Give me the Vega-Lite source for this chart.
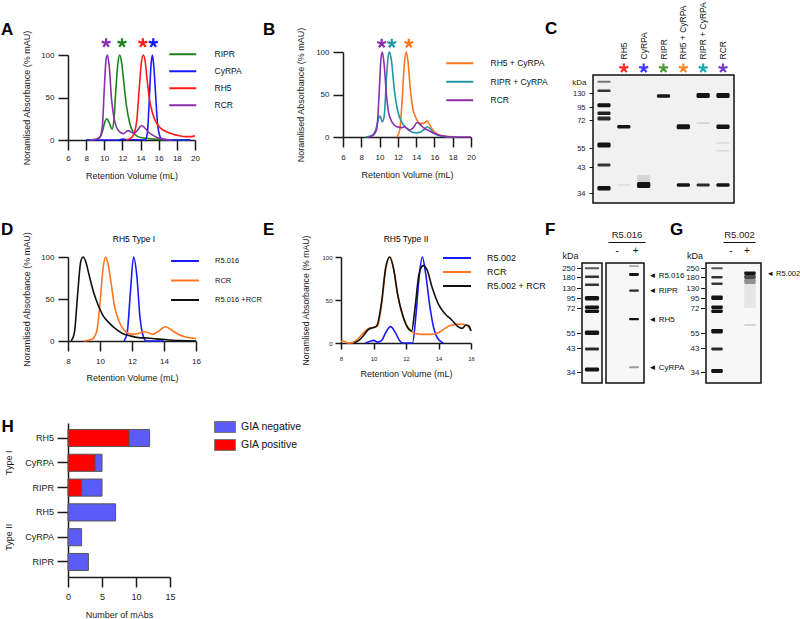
{
"$schema":"https://vega.github.io/schema/vega-lite/v6.json",
"padding":0,"autosize":{"type":"pad"},"background":"white",
"spacing":0,"bounds":"flush",
"resolve":{"scale":{"color":"independent","stroke":"independent","opacity":"independent"},"legend":{"color":"independent"}},
"config":{"font":"Liberation Sans","view":{"stroke":null},
"axis":{"grid":false,"domainColor":"#1a1a1a","tickColor":"#1a1a1a","domainWidth":1.5,"tickWidth":1.5,"labelColor":"#1a1a1a","titleColor":"#1a1a1a","titleFontWeight":"normal","labelFlush":false,"labelOverlap":false},
"legend":{"labelColor":"#111","orient":"none"},"title":{"color":"#000","offset":0}},
"hconcat":[
{"width":68,"height":1,"data":{"values":[]},"mark":"point"},
{"vconcat":[
{"width":127,"height":55,"data":{"values":[]},"mark":"point","title":{"text":"A","anchor":"start","frame":"group","offset":0,"dx":-67,"dy":52,"baseline":"alphabetic","fontSize":17,"fontWeight":"bold"}},
{"width":127,"height":85,
"layer":[
{"data":{"values":[
{"v":8,"a":0,"s":"RIPR"},{"v":9,"a":0.5,"s":"RIPR"},{"v":9.5,"a":3,"s":"RIPR"},{"v":9.8,"a":10,"s":"RIPR"},{"v":10.05,"a":21,"s":"RIPR"},{"v":10.3,"a":25,"s":"RIPR"},{"v":10.55,"a":20,"s":"RIPR"},{"v":10.85,"a":13,"s":"RIPR"},{"v":11.05,"a":22,"s":"RIPR"},{"v":11.25,"a":55,"s":"RIPR"},{"v":11.5,"a":90,"s":"RIPR"},{"v":11.7,"a":100,"s":"RIPR"},{"v":11.9,"a":92,"s":"RIPR"},{"v":12.15,"a":68,"s":"RIPR"},{"v":12.45,"a":40,"s":"RIPR"},{"v":12.8,"a":20,"s":"RIPR"},{"v":13.2,"a":9,"s":"RIPR"},{"v":13.7,"a":4,"s":"RIPR"},{"v":14.5,"a":2,"s":"RIPR"},{"v":15.5,"a":1,"s":"RIPR"},{"v":16.5,"a":0.3,"s":"RIPR"},{"v":18,"a":0,"s":"RIPR"},{"v":19.5,"a":0,"s":"RIPR"},
{"v":8,"a":0,"s":"CyRPA"},{"v":11.6,"a":0,"s":"CyRPA"},{"v":12,"a":1,"s":"CyRPA"},{"v":12.4,"a":0.5,"s":"CyRPA"},{"v":14.5,"a":0,"s":"CyRPA"},{"v":14.75,"a":8,"s":"CyRPA"},{"v":14.95,"a":45,"s":"CyRPA"},{"v":15.15,"a":88,"s":"CyRPA"},{"v":15.3,"a":100,"s":"CyRPA"},{"v":15.45,"a":88,"s":"CyRPA"},{"v":15.65,"a":55,"s":"CyRPA"},{"v":15.85,"a":22,"s":"CyRPA"},{"v":16.05,"a":7,"s":"CyRPA"},{"v":16.3,"a":1.5,"s":"CyRPA"},{"v":16.8,"a":0,"s":"CyRPA"},{"v":19.5,"a":0,"s":"CyRPA"},
{"v":12.4,"a":0,"s":"RH5"},{"v":12.9,"a":2,"s":"RH5"},{"v":13.3,"a":8,"s":"RH5"},{"v":13.6,"a":25,"s":"RH5"},{"v":13.85,"a":60,"s":"RH5"},{"v":14.1,"a":92,"s":"RH5"},{"v":14.3,"a":100,"s":"RH5"},{"v":14.5,"a":93,"s":"RH5"},{"v":14.75,"a":68,"s":"RH5"},{"v":15,"a":47,"s":"RH5"},{"v":15.3,"a":32,"s":"RH5"},{"v":15.7,"a":21,"s":"RH5"},{"v":16.2,"a":14,"s":"RH5"},{"v":16.8,"a":10,"s":"RH5"},{"v":17.5,"a":7,"s":"RH5"},{"v":18.3,"a":5,"s":"RH5"},{"v":19,"a":4,"s":"RH5"},{"v":19.6,"a":4,"s":"RH5"},{"v":20,"a":5,"s":"RH5"},
{"v":8.3,"a":0,"s":"RCR"},{"v":9,"a":0.5,"s":"RCR"},{"v":9.5,"a":3,"s":"RCR"},{"v":9.8,"a":18,"s":"RCR"},{"v":10,"a":60,"s":"RCR"},{"v":10.2,"a":95,"s":"RCR"},{"v":10.35,"a":100,"s":"RCR"},{"v":10.55,"a":86,"s":"RCR"},{"v":10.8,"a":48,"s":"RCR"},{"v":11.05,"a":27,"s":"RCR"},{"v":11.35,"a":15,"s":"RCR"},{"v":11.7,"a":9.5,"s":"RCR"},{"v":12.1,"a":7.5,"s":"RCR"},{"v":12.45,"a":10,"s":"RCR"},{"v":12.7,"a":11,"s":"RCR"},{"v":13,"a":9,"s":"RCR"},{"v":13.3,"a":8,"s":"RCR"},{"v":13.7,"a":12,"s":"RCR"},{"v":14.1,"a":17,"s":"RCR"},{"v":14.4,"a":15,"s":"RCR"},{"v":14.8,"a":10,"s":"RCR"},{"v":15.3,"a":6,"s":"RCR"},{"v":15.8,"a":3,"s":"RCR"},{"v":16.5,"a":1,"s":"RCR"},{"v":17.5,"a":0,"s":"RCR"}
]},
"mark":{"type":"line","interpolate":"monotone","strokeWidth":1.6},
"encoding":{
"x":{"field":"v","type":"quantitative","scale":{"domain":[6,20],"nice":false,"zero":false},"axis":{"values":[6,8,10,12,14,16,18,20],"labelOverlap":false,"title":"Retention Volume  (mL)","labelFontSize":8,"titleFontSize":9,"tickSize":10,"labelPadding":4,"titlePadding":9}},
"y":{"field":"a","type":"quantitative","scale":{"domain":[0,100],"nice":false},"axis":{"values":[0,50,100],"labelOverlap":false,"title":"Noramlised Absorbance (% mAU)","labelFontSize":8,"titleFontSize":9,"tickSize":10,"labelPadding":4,"titlePadding":9}},
"color":{"field":"s","type":"nominal","scale":{"domain":["RIPR","CyRPA","RH5","RCR"],"range":["#1e821e","#1a1aff","#ff1a1a","#8b2fae"]},"legend":{"legendX":106.75,"legendY":-8.75,"title":null,"symbolType":"M-2,0H2","symbolSize":182,"symbolStrokeWidth":2,"labelFontSize":8.5,"labelOffset":23.75,"rowPadding":4,"padding":0}}}},
{"data":{"values":[{"v":10.2,"s":"RCR"},{"v":11.95,"s":"RIPR"},{"v":14.25,"s":"RH5"},{"v":15.4,"s":"CyRPA"}]},
"mark":{"type":"point","shape":"M0,0L0,-1M0,0L0.95,-0.31M0,0L0.59,0.81M0,0L-0.59,0.81M0,0L-0.95,-0.31","filled":false,"strokeWidth":2.2,"size":90,"opacity":1},
"encoding":{"x":{"field":"v","type":"quantitative","axis":{"values":[6,8,10,12,14,16,18,20],"labelOverlap":false,"title":"Retention Volume  (mL)","labelFontSize":8,"titleFontSize":9,"tickSize":10,"labelPadding":4,"titlePadding":9}},"y":{"datum":114,"axis":{"values":[0,50,100],"labelOverlap":false,"title":"Noramlised Absorbance (% mAU)","labelFontSize":8,"titleFontSize":9,"tickSize":10,"labelPadding":4,"titlePadding":9}},"stroke":{"field":"s","type":"nominal","scale":{"domain":["RIPR","CyRPA","RH5","RCR"],"range":["#1e821e","#1a1aff","#ff1a1a","#8b2fae"]},"legend":null}}}
]},
{"width":128,"height":1,"data":{"values":[]},"mark":"point","title":{"text":"D","anchor":"start","frame":"group","offset":0,"dx":-67,"dy":112,"baseline":"alphabetic","fontSize":17,"fontWeight":"bold"}},
{"width":128,"height":116,"data":{"values":[]},"mark":"point","title":{"text":"RH5 Type I","anchor":"middle","frame":"group","offset":0,"dx":2,"dy":109.5,"baseline":"alphabetic","fontSize":8.5,"fontWeight":"normal","color":"#000"}},
{"width":128,"height":84,
"data":{"values":[
{"v":11.5,"a":0,"s":"R5.016"},{"v":11.7,"a":10,"s":"R5.016"},{"v":11.9,"a":58,"s":"R5.016"},{"v":12.1,"a":100,"s":"R5.016"},{"v":12.3,"a":78,"s":"R5.016"},{"v":12.5,"a":28,"s":"R5.016"},{"v":12.7,"a":6,"s":"R5.016"},{"v":12.9,"a":0,"s":"R5.016"},{"v":14,"a":0,"s":"R5.016"},
{"v":9,"a":0,"s":"RCR"},{"v":9.5,"a":2,"s":"RCR"},{"v":9.8,"a":12,"s":"RCR"},{"v":10,"a":45,"s":"RCR"},{"v":10.2,"a":88,"s":"RCR"},{"v":10.35,"a":100,"s":"RCR"},{"v":10.5,"a":92,"s":"RCR"},{"v":10.7,"a":68,"s":"RCR"},{"v":10.9,"a":42,"s":"RCR"},{"v":11.2,"a":23,"s":"RCR"},{"v":11.5,"a":13,"s":"RCR"},{"v":11.8,"a":9,"s":"RCR"},{"v":12.1,"a":8,"s":"RCR"},{"v":12.4,"a":9,"s":"RCR"},{"v":12.7,"a":11,"s":"RCR"},{"v":13,"a":10,"s":"RCR"},{"v":13.3,"a":8,"s":"RCR"},{"v":13.6,"a":11,"s":"RCR"},{"v":14.1,"a":17,"s":"RCR"},{"v":14.4,"a":14,"s":"RCR"},{"v":14.8,"a":9,"s":"RCR"},{"v":15.3,"a":5,"s":"RCR"},{"v":16,"a":3,"s":"RCR"},
{"v":8.2,"a":0,"s":"R5.016 +RCR"},{"v":8.4,"a":10,"s":"R5.016 +RCR"},{"v":8.6,"a":55,"s":"R5.016 +RCR"},{"v":8.8,"a":95,"s":"R5.016 +RCR"},{"v":8.95,"a":100,"s":"R5.016 +RCR"},{"v":9.1,"a":95,"s":"R5.016 +RCR"},{"v":9.3,"a":80,"s":"R5.016 +RCR"},{"v":9.6,"a":58,"s":"R5.016 +RCR"},{"v":9.9,"a":42,"s":"R5.016 +RCR"},{"v":10.2,"a":30,"s":"R5.016 +RCR"},{"v":10.6,"a":21,"s":"R5.016 +RCR"},{"v":11,"a":14,"s":"R5.016 +RCR"},{"v":11.4,"a":9,"s":"R5.016 +RCR"},{"v":11.9,"a":6,"s":"R5.016 +RCR"},{"v":12.4,"a":4,"s":"R5.016 +RCR"},{"v":13,"a":3.5,"s":"R5.016 +RCR"},{"v":13.5,"a":2.5,"s":"R5.016 +RCR"},{"v":14.2,"a":1.5,"s":"R5.016 +RCR"},{"v":15,"a":0.5,"s":"R5.016 +RCR"},{"v":16,"a":0,"s":"R5.016 +RCR"}
]},
"mark":{"type":"line","interpolate":"monotone","strokeWidth":1.6},
"encoding":{
"x":{"field":"v","type":"quantitative","scale":{"domain":[8,16],"nice":false,"zero":false},"axis":{"values":[8,10,12,14,16],"title":"Retention Volume  (mL)","labelFontSize":8,"titleFontSize":9,"tickSize":10,"labelPadding":6,"titlePadding":8}},
"y":{"field":"a","type":"quantitative","scale":{"domain":[0,100],"nice":false},"axis":{"values":[0,50,100],"title":"Noramlised Absorbance (% mAU)","labelFontSize":8,"titleFontSize":9,"tickSize":10,"labelPadding":4,"titlePadding":9}},
"color":{"field":"s","type":"nominal","scale":{"domain":["R5.016","RCR","R5.016 +RCR"],"range":["#1a1aff","#ff761e","#111111"]},"legend":{"legendX":109,"legendY":-4,"title":null,"symbolType":"M-2,0H2","symbolSize":196,"symbolStrokeWidth":2,"labelFontSize":7.5,"labelOffset":22,"rowPadding":7.5,"padding":0}}}},
{"width":102,"height":82,"data":{"values":[]},"mark":"point","title":{"text":"H","anchor":"start","frame":"group","offset":0,"dx":-66.5,"dy":108,"baseline":"alphabetic","fontSize":17,"fontWeight":"bold"}},
{"width":102,"height":154,
"data":{"values":[
{"bar":"1 RH5","status":"GIA positive","n":9},{"bar":"1 RH5","status":"GIA negative","n":3},
{"bar":"1 CyRPA","status":"GIA positive","n":4},{"bar":"1 CyRPA","status":"GIA negative","n":1},
{"bar":"1 RIPR","status":"GIA positive","n":2},{"bar":"1 RIPR","status":"GIA negative","n":3},
{"bar":"2 RH5","status":"GIA negative","n":7},{"bar":"2 CyRPA","status":"GIA negative","n":2},{"bar":"2 RIPR","status":"GIA negative","n":3}
]},
"resolve":{"axis":{"y":"independent"}},
"layer":[
{"mark":{"type":"bar","stroke":"#555","strokeWidth":1},
"encoding":{
"y":{"field":"bar","type":"nominal","sort":["1 RH5","1 CyRPA","1 RIPR","2 RH5","2 CyRPA","2 RIPR"],"scale":{"paddingInner":0.31,"paddingOuter":0.26},"axis":{"orient":"left","title":null,"labelExpr":"substring(datum.label,2)","tickSize":11,"labelPadding":3.5,"labelFontSize":9}},
"x":{"field":"n","type":"quantitative","stack":"zero","scale":{"domain":[0,15],"nice":false},"axis":{"values":[0,5,10,15],"title":"Number of mAbs","tickSize":10,"labelPadding":5,"labelFontSize":9,"titleFontSize":9,"titlePadding":9}},
"color":{"field":"status","type":"nominal","scale":{"domain":["GIA negative","GIA positive"],"range":["#5b5bf7","#ff0000"]},"legend":{"legendX":151,"legendY":-2,"title":null,"symbolType":"M-1.9,-1H1.9V1H-1.9Z","symbolSize":121,"symbolStrokeColor":"#777","symbolStrokeWidth":1,"labelFontSize":10.5,"labelOffset":10,"rowPadding":2,"padding":0}},
"order":{"field":"status","sort":"descending"}}},
{"mark":{"type":"point","opacity":0},
"encoding":{"y":{"field":"bar","type":"nominal","sort":["1 RH5","1 CyRPA","1 RIPR","2 RH5","2 CyRPA","2 RIPR"],"axis":{"orient":"left","values":["1 CyRPA","2 CyRPA"],"labelExpr":"datum.value == '1 CyRPA' ? 'Type I' : 'Type II'","labelAngle":-90,"labelAlign":"center","labelBaseline":"bottom","domain":false,"ticks":false,"tickSize":0,"labelPadding":54.5,"labelFontSize":9,"title":null}}}}
]}
],"spacing":0,"bounds":"flush","resolve":{"scale":{"color":"independent","stroke":"independent","opacity":"independent"},"legend":{"color":"independent"}}},
{"width":273,"height":1,"data":{"values":[]},"mark":"point"},
{"vconcat":[
{"width":130,"height":1,"data":{"values":[]},"mark":"point","title":{"text":"E","anchor":"start","frame":"group","offset":0,"dx":-78,"dy":252,"baseline":"alphabetic","fontSize":17,"fontWeight":"bold"}},
{"width":130,"height":256,"data":{"values":[]},"mark":"point","title":{"text":"RH5 Type II","anchor":"middle","frame":"group","offset":0,"dx":0,"dy":249.5,"baseline":"alphabetic","fontSize":8.5,"fontWeight":"normal","color":"#000"}},
{"width":130,"height":86,
"data":{"values":[
{"v":9.5,"a":0,"s":"R5.002"},{"v":9.8,"a":2,"s":"R5.002"},{"v":10,"a":3,"s":"R5.002"},{"v":10.25,"a":1,"s":"R5.002"},{"v":10.5,"a":3,"s":"R5.002"},{"v":10.75,"a":12,"s":"R5.002"},{"v":11.05,"a":19,"s":"R5.002"},{"v":11.35,"a":12,"s":"R5.002"},{"v":11.6,"a":3,"s":"R5.002"},{"v":11.8,"a":0,"s":"R5.002"},{"v":12.4,"a":0,"s":"R5.002"},{"v":12.6,"a":30,"s":"R5.002"},{"v":12.8,"a":75,"s":"R5.002"},{"v":13,"a":100,"s":"R5.002"},{"v":13.2,"a":82,"s":"R5.002"},{"v":13.45,"a":45,"s":"R5.002"},{"v":13.7,"a":18,"s":"R5.002"},{"v":14,"a":4,"s":"R5.002"},{"v":14.3,"a":0,"s":"R5.002"},
{"v":8,"a":2,"s":"RCR"},{"v":8.2,"a":2,"s":"RCR"},{"v":8.4,"a":0,"s":"RCR"},{"v":8.8,"a":1,"s":"RCR"},{"v":9.1,"a":6,"s":"RCR"},{"v":9.4,"a":12,"s":"RCR"},{"v":9.7,"a":17,"s":"RCR"},{"v":10,"a":18,"s":"RCR"},{"v":10.25,"a":20,"s":"RCR"},{"v":10.5,"a":45,"s":"RCR"},{"v":10.75,"a":85,"s":"RCR"},{"v":11,"a":100,"s":"RCR"},{"v":11.2,"a":90,"s":"RCR"},{"v":11.45,"a":60,"s":"RCR"},{"v":11.7,"a":38,"s":"RCR"},{"v":12,"a":22,"s":"RCR"},{"v":12.3,"a":14,"s":"RCR"},{"v":12.6,"a":11,"s":"RCR"},{"v":13,"a":10,"s":"RCR"},{"v":13.5,"a":10,"s":"RCR"},{"v":14,"a":12,"s":"RCR"},{"v":14.4,"a":17,"s":"RCR"},{"v":14.8,"a":21,"s":"RCR"},{"v":15.3,"a":22,"s":"RCR"},{"v":15.7,"a":21,"s":"RCR"},{"v":16,"a":14,"s":"RCR"},
{"v":8.8,"a":0,"s":"R5.002 + RCR"},{"v":9.1,"a":3,"s":"R5.002 + RCR"},{"v":9.4,"a":9,"s":"R5.002 + RCR"},{"v":9.7,"a":16,"s":"R5.002 + RCR"},{"v":10,"a":18,"s":"R5.002 + RCR"},{"v":10.2,"a":20,"s":"R5.002 + RCR"},{"v":10.5,"a":48,"s":"R5.002 + RCR"},{"v":10.75,"a":88,"s":"R5.002 + RCR"},{"v":11,"a":100,"s":"R5.002 + RCR"},{"v":11.25,"a":85,"s":"R5.002 + RCR"},{"v":11.5,"a":55,"s":"R5.002 + RCR"},{"v":11.8,"a":32,"s":"R5.002 + RCR"},{"v":12.1,"a":18,"s":"R5.002 + RCR"},{"v":12.35,"a":14,"s":"R5.002 + RCR"},{"v":12.55,"a":40,"s":"R5.002 + RCR"},{"v":12.8,"a":80,"s":"R5.002 + RCR"},{"v":13.05,"a":90,"s":"R5.002 + RCR"},{"v":13.3,"a":85,"s":"R5.002 + RCR"},{"v":13.6,"a":65,"s":"R5.002 + RCR"},{"v":14,"a":45,"s":"R5.002 + RCR"},{"v":14.4,"a":34,"s":"R5.002 + RCR"},{"v":14.8,"a":27,"s":"R5.002 + RCR"},{"v":15.2,"a":19,"s":"R5.002 + RCR"},{"v":15.45,"a":17,"s":"R5.002 + RCR"},{"v":15.7,"a":21,"s":"R5.002 + RCR"},{"v":15.9,"a":19,"s":"R5.002 + RCR"},{"v":16,"a":14,"s":"R5.002 + RCR"}
]},
"mark":{"type":"line","interpolate":"monotone","strokeWidth":1.6},
"encoding":{
"x":{"field":"v","type":"quantitative","scale":{"domain":[8,16],"nice":false,"zero":false},"axis":{"values":[8,10,12,14,16],"title":"Retention Volume  (mL)","labelFontSize":6,"titleFontSize":9,"tickSize":6,"labelPadding":6,"titlePadding":8}},
"y":{"field":"a","type":"quantitative","scale":{"domain":[0,100],"nice":false},"axis":{"values":[0,50,100],"title":"Noramlised Absorbance (% mAU)","labelFontSize":6,"titleFontSize":8.7,"tickSize":6,"labelPadding":3,"titlePadding":11}},
"color":{"field":"s","type":"nominal","scale":{"domain":["R5.002","RCR","R5.002 + RCR"],"range":["#1a1aff","#ff761e","#111111"]},"legend":{"legendX":108,"legendY":-7,"title":null,"symbolType":"M-2,0H2","symbolSize":196,"symbolStrokeWidth":2,"labelFontSize":9,"labelOffset":22,"rowPadding":1,"padding":0}}}}
],"spacing":0,"bounds":"flush","resolve":{"scale":{"color":"independent","stroke":"independent","opacity":"independent"},"legend":{"color":"independent"}}},
{"width":2,"height":1,"data":{"values":[]},"mark":"point"},
{"vconcat":[
{"width":128,"height":52,"data":{"values":[]},"mark":"point","title":{"text":"B","anchor":"start","frame":"group","offset":0,"dx":-80,"dy":52,"baseline":"alphabetic","fontSize":17,"fontWeight":"bold"}},
{"width":128,"height":85,
"layer":[
{"data":{"values":[
{"v":11.9,"a":0,"s":"RH5 + CyRPA"},{"v":12.2,"a":8,"s":"RH5 + CyRPA"},{"v":12.45,"a":40,"s":"RH5 + CyRPA"},{"v":12.7,"a":85,"s":"RH5 + CyRPA"},{"v":12.9,"a":100,"s":"RH5 + CyRPA"},{"v":13.1,"a":90,"s":"RH5 + CyRPA"},{"v":13.35,"a":58,"s":"RH5 + CyRPA"},{"v":13.65,"a":33,"s":"RH5 + CyRPA"},{"v":14,"a":22,"s":"RH5 + CyRPA"},{"v":14.4,"a":16,"s":"RH5 + CyRPA"},{"v":14.8,"a":16,"s":"RH5 + CyRPA"},{"v":15.2,"a":19,"s":"RH5 + CyRPA"},{"v":15.5,"a":14,"s":"RH5 + CyRPA"},{"v":15.9,"a":7,"s":"RH5 + CyRPA"},{"v":16.4,"a":3,"s":"RH5 + CyRPA"},{"v":17,"a":1,"s":"RH5 + CyRPA"},{"v":18.5,"a":0,"s":"RH5 + CyRPA"},
{"v":8.5,"a":0,"s":"RIPR + CyRPA"},{"v":9.2,"a":2,"s":"RIPR + CyRPA"},{"v":9.6,"a":9,"s":"RIPR + CyRPA"},{"v":9.9,"a":22,"s":"RIPR + CyRPA"},{"v":10.05,"a":25,"s":"RIPR + CyRPA"},{"v":10.3,"a":18,"s":"RIPR + CyRPA"},{"v":10.5,"a":24,"s":"RIPR + CyRPA"},{"v":10.75,"a":68,"s":"RIPR + CyRPA"},{"v":10.95,"a":96,"s":"RIPR + CyRPA"},{"v":11.1,"a":100,"s":"RIPR + CyRPA"},{"v":11.3,"a":90,"s":"RIPR + CyRPA"},{"v":11.6,"a":57,"s":"RIPR + CyRPA"},{"v":12,"a":30,"s":"RIPR + CyRPA"},{"v":12.4,"a":18,"s":"RIPR + CyRPA"},{"v":12.9,"a":11,"s":"RIPR + CyRPA"},{"v":13.5,"a":6,"s":"RIPR + CyRPA"},{"v":14,"a":5,"s":"RIPR + CyRPA"},{"v":14.5,"a":6,"s":"RIPR + CyRPA"},{"v":14.9,"a":9,"s":"RIPR + CyRPA"},{"v":15.2,"a":12,"s":"RIPR + CyRPA"},{"v":15.5,"a":10,"s":"RIPR + CyRPA"},{"v":15.9,"a":5,"s":"RIPR + CyRPA"},{"v":16.4,"a":2,"s":"RIPR + CyRPA"},{"v":17,"a":0.5,"s":"RIPR + CyRPA"},{"v":18.5,"a":0,"s":"RIPR + CyRPA"},
{"v":8.8,"a":0,"s":"RCR"},{"v":9.3,"a":2,"s":"RCR"},{"v":9.7,"a":10,"s":"RCR"},{"v":9.95,"a":50,"s":"RCR"},{"v":10.15,"a":92,"s":"RCR"},{"v":10.3,"a":100,"s":"RCR"},{"v":10.5,"a":85,"s":"RCR"},{"v":10.75,"a":50,"s":"RCR"},{"v":11,"a":28,"s":"RCR"},{"v":11.4,"a":17,"s":"RCR"},{"v":11.9,"a":12,"s":"RCR"},{"v":12.4,"a":11,"s":"RCR"},{"v":12.7,"a":12,"s":"RCR"},{"v":13,"a":10,"s":"RCR"},{"v":13.3,"a":8,"s":"RCR"},{"v":13.7,"a":11,"s":"RCR"},{"v":14.1,"a":17,"s":"RCR"},{"v":14.4,"a":15,"s":"RCR"},{"v":14.8,"a":11,"s":"RCR"},{"v":15.3,"a":8,"s":"RCR"},{"v":15.8,"a":5,"s":"RCR"},{"v":16.3,"a":3,"s":"RCR"},{"v":17,"a":1,"s":"RCR"},{"v":18,"a":0,"s":"RCR"},{"v":20,"a":0,"s":"RCR"}
]},
"mark":{"type":"line","interpolate":"monotone","strokeWidth":1.6},
"encoding":{
"x":{"field":"v","type":"quantitative","scale":{"domain":[6,20],"nice":false,"zero":false},"axis":{"values":[6,8,10,12,14,16,18,20],"labelOverlap":false,"title":"Retention Volume  (mL)","labelFontSize":8,"titleFontSize":9,"tickSize":10,"labelPadding":6,"titlePadding":9}},
"y":{"field":"a","type":"quantitative","scale":{"domain":[0,100],"nice":false},"axis":{"values":[0,50,100],"labelOverlap":false,"title":"Noramlised Absorbance (% mAU)","labelFontSize":8,"titleFontSize":9,"tickSize":10,"labelPadding":4,"titlePadding":10}},
"color":{"field":"s","type":"nominal","scale":{"domain":["RH5 + CyRPA","RIPR + CyRPA","RCR"],"range":["#ff761e","#2196a6","#8b2fae"]},"legend":{"legendX":108.75,"legendY":3.25,"title":null,"symbolType":"M-2,0H2","symbolSize":182,"symbolStrokeWidth":2,"labelFontSize":8.5,"labelOffset":22.75,"rowPadding":5.5,"padding":0}}}},
{"data":{"values":[{"v":10.23,"s":"RCR"},{"v":11.33,"s":"RIPR + CyRPA"},{"v":13.2,"s":"RH5 + CyRPA"}]},
"mark":{"type":"point","shape":"M0,0L0,-1M0,0L0.95,-0.31M0,0L0.59,0.81M0,0L-0.59,0.81M0,0L-0.95,-0.31","filled":false,"strokeWidth":2.2,"size":90,"opacity":1},
"encoding":{"x":{"field":"v","type":"quantitative","axis":{"values":[6,8,10,12,14,16,18,20],"labelOverlap":false,"title":"Retention Volume  (mL)","labelFontSize":8,"titleFontSize":9,"tickSize":10,"labelPadding":6,"titlePadding":9}},"y":{"datum":110,"axis":{"values":[0,50,100],"labelOverlap":false,"title":"Noramlised Absorbance (% mAU)","labelFontSize":8,"titleFontSize":9,"tickSize":10,"labelPadding":4,"titlePadding":10}},"stroke":{"field":"s","type":"nominal","scale":{"domain":["RH5 + CyRPA","RIPR + CyRPA","RCR"],"range":["#ff761e","#2196a6","#8b2fae"]},"legend":null}}}
]}
],"spacing":0,"bounds":"flush","resolve":{"scale":{"color":"independent","stroke":"independent","opacity":"independent"},"legend":{"color":"independent"}}},
{"width":239,"height":1,"data":{"values":[]},"mark":"point"},
{"vconcat":[
{"width":20,"height":263,"data":{"values":[]},"mark":"point","title":{"text":"F","anchor":"start","frame":"group","offset":0,"dx":-37,"dy":252,"baseline":"alphabetic","fontSize":17,"fontWeight":"bold"}},
{"width":20,"height":120,"view":{"stroke":"#111","strokeWidth":1.5,"fill":"#f7f7f7"},
"data":{"values":[
{"lane":"L","top":4.3,"bot":6.3,"i":0.7},{"lane":"L","top":12.5,"bot":15,"i":0.85},{"lane":"L","top":20.5,"bot":23,"i":0.85},{"lane":"L","top":33,"bot":37.5,"i":1},{"lane":"L","top":42.5,"bot":46,"i":1},{"lane":"L","top":46.5,"bot":50,"i":1},{"lane":"L","top":67.5,"bot":72,"i":1},{"lane":"L","top":84.5,"bot":87.5,"i":0.9},{"lane":"L","top":104.5,"bot":108.5,"i":1}
]},
"mark":{"type":"rect","color":"#141414","cornerRadius":1.5},
"encoding":{
"x":{"field":"lane","type":"nominal","scale":{"domain":["L"],"paddingInner":0,"paddingOuter":0.2},"axis":null},
"y":{"field":"top","type":"quantitative","scale":{"domain":[0,120],"reverse":true,"nice":false,"zero":false},"axis":{"values":[5,14,25,35,45,70,85,109],"labelExpr":"datum.value==5?'250':datum.value==14?'180':datum.value==25?'130':datum.value==35?'95':datum.value==45?'72':datum.value==70?'55':datum.value==85?'43':'34'","labelOverlap":false,"domain":false,"tickSize":4,"tickWidth":1,"offset":1.5,"labelPadding":1.5,"labelFontSize":8,"title":"kDa","titleAngle":0,"titleAlign":"right","titleBaseline":"alphabetic","titleX":-2.5,"titleY":-5,"titleFontSize":9}},
"y2":{"field":"bot"},
"opacity":{"field":"i","type":"quantitative","scale":{"domain":[0,1],"range":[0,1]},"legend":null}}}
],"spacing":0,"bounds":"flush","resolve":{"scale":{"opacity":"independent"}}},
{"width":11,"height":1,"data":{"values":[]},"mark":"point"},
{"vconcat":[
{"width":141,"height":75,"data":{"values":[]},"mark":"point","title":{"text":"C","anchor":"start","frame":"group","offset":0,"dx":-48,"dy":51,"baseline":"alphabetic","fontSize":17,"fontWeight":"bold"}},
{"width":141,"height":128,"view":{"stroke":"#111","strokeWidth":1.5,"fill":"#f1f1f1"},
"layer":[
{"data":{"values":[
{"lane":"L","top":5.7,"bot":7.7,"i":0.55},{"lane":"L","top":14.5,"bot":17,"i":0.85},{"lane":"L","top":28.3,"bot":32.3,"i":1},{"lane":"L","top":36.5,"bot":40,"i":0.95},{"lane":"L","top":41.5,"bot":45.5,"i":0.9},{"lane":"L","top":67.5,"bot":72.5,"i":1},{"lane":"L","top":88.5,"bot":91.5,"i":0.85},{"lane":"L","top":111,"bot":115.5,"i":1},
{"lane":"RH5","top":50,"bot":53.5,"i":1},{"lane":"RH5","top":109,"bot":111,"i":0.08},
{"lane":"CyRPA","top":100,"bot":107,"i":0.12},{"lane":"CyRPA","top":107,"bot":113,"i":1},
{"lane":"RIPR","top":19.3,"bot":22.8,"i":1},
{"lane":"RH5 + CyRPA","top":49.3,"bot":54.3,"i":1},{"lane":"RH5 + CyRPA","top":108.3,"bot":111.8,"i":1},
{"lane":"RIPR + CyRPA","top":18,"bot":23,"i":1},{"lane":"RIPR + CyRPA","top":47.3,"bot":49,"i":0.12},{"lane":"RIPR + CyRPA","top":108.5,"bot":111.5,"i":0.9},
{"lane":"RCR","top":18,"bot":23,"i":1},{"lane":"RCR","top":49.5,"bot":54,"i":1},{"lane":"RCR","top":67.3,"bot":68.8,"i":0.1},{"lane":"RCR","top":75,"bot":76.5,"i":0.1},{"lane":"RCR","top":108.3,"bot":111.8,"i":1}
]},
"mark":{"type":"rect","color":"#141414","cornerRadius":1.5},
"encoding":{
"x":{"field":"lane","type":"nominal","scale":{"domain":["L","RH5","CyRPA","RIPR","RH5 + CyRPA","RIPR + CyRPA","RCR"],"paddingInner":0.33,"paddingOuter":0.22},"axis":{"orient":"top","labelAngle":-90,"labelExpr":"datum.value == 'L' ? '' : datum.value","domain":false,"ticks":false,"tickSize":0,"labelPadding":16,"labelFontSize":8.5,"labelColor":"#111","title":null}},
"y":{"field":"top","type":"quantitative","scale":{"domain":[0,128],"reverse":true,"nice":false,"zero":false},"axis":{"values":[18,32,45,73,92,118],"labelExpr":"datum.value==18?'130':datum.value==32?'95':datum.value==45?'72':datum.value==73?'55':datum.value==92?'43':'34'","labelOverlap":false,"domain":false,"tickSize":4,"tickWidth":1,"labelPadding":4,"labelFontSize":7.5,"title":"kDa","titleAngle":0,"titleAlign":"right","titleBaseline":"alphabetic","titleX":-7,"titleY":9,"titleFontSize":8}},
"y2":{"field":"bot"},
"opacity":{"field":"i","type":"quantitative","scale":{"domain":[0,1],"range":[0,1]},"legend":null}}},
{"data":{"values":[{"lane":"RH5"},{"lane":"CyRPA"},{"lane":"RIPR"},{"lane":"RH5 + CyRPA"},{"lane":"RIPR + CyRPA"},{"lane":"RCR"}]},
"mark":{"type":"point","shape":"M0,0L0,-1M0,0L0.95,-0.31M0,0L0.59,0.81M0,0L-0.59,0.81M0,0L-0.95,-0.31","filled":false,"strokeWidth":2.2,"size":90,"opacity":1},
"encoding":{"x":{"field":"lane","type":"nominal","axis":{"orient":"top","labelAngle":-90,"labelExpr":"datum.value == 'L' ? '' : datum.value","domain":false,"ticks":false,"tickSize":0,"labelPadding":16,"labelFontSize":8.5,"labelColor":"#111","title":null}},"y":{"datum":-6.7,"axis":{"values":[18,32,45,73,92,118],"labelExpr":"datum.value==18?'130':datum.value==32?'95':datum.value==45?'72':datum.value==73?'55':datum.value==92?'43':'34'","labelOverlap":false,"domain":false,"tickSize":4,"tickWidth":1,"labelPadding":4,"labelFontSize":7.5,"title":"kDa","titleAngle":0,"titleAlign":"right","titleBaseline":"alphabetic","titleX":-7,"titleY":9,"titleFontSize":8}},"stroke":{"field":"lane","type":"nominal","scale":{"domain":["RH5","CyRPA","RIPR","RH5 + CyRPA","RIPR + CyRPA","RCR"],"range":["#ff2a2a","#3a3aff","#4e9a36","#ff8a2a","#1aaeb0","#7a3fc8"]},"legend":null}}}
]}
],"spacing":0,"bounds":"flush","resolve":{"scale":{"stroke":"independent","opacity":"independent"}}},
{"width":13,"height":1,"data":{"values":[]},"mark":"point"},
{"vconcat":[
{"width":38,"height":263,"data":{"values":[]},"mark":"point"},
{"width":38,"height":120,"view":{"stroke":"#111","strokeWidth":1.5,"fill":"#f7f7f7"},
"data":{"values":[
{"lane":"+","top":2.3,"bot":4,"i":0.35},{"lane":"+","top":10,"bot":13,"i":1},{"lane":"+","top":26.5,"bot":28.7,"i":0.9},{"lane":"+","top":55,"bot":57.3,"i":1},{"lane":"+","top":103.3,"bot":105.3,"i":0.4}
]},
"mark":{"type":"rect","color":"#141414","cornerRadius":1.2},
"encoding":{
"x":{"field":"lane","type":"nominal","scale":{"domain":["-","+"],"paddingInner":0.45,"paddingOuter":0.28},"axis":null},
"y":{"field":"top","type":"quantitative","scale":{"domain":[0,120],"reverse":true,"nice":false,"zero":false},"axis":{"orient":"right","values":[12.5,27.5,56,104.3],"labelExpr":"datum.value==12.5?'◄ R5.016':datum.value==27.5?'◄ RIPR':datum.value==56?'◄ RH5':'◄ CyRPA'","labelOverlap":false,"domain":false,"ticks":false,"tickSize":0,"labelPadding":4,"labelFontSize":8,"labelColor":"#111","title":null}},
"y2":{"field":"bot"},
"opacity":{"field":"i","type":"quantitative","scale":{"domain":[0,1],"range":[0,1]},"legend":null}}}
],"spacing":0,"bounds":"flush","resolve":{"scale":{"opacity":"independent"}}},
{"width":2,"height":1,"data":{"values":[]},"mark":"point"},
{"vconcat":[
{"width":37,"height":242,"data":{"values":[]},"mark":"point"},
{"width":37,"height":21,"data":{"values":[{"lane":"-"},{"lane":"+"}]},
"mark":{"type":"text","fontSize":10,"baseline":"middle","dy":-2,"color":"#111"},
"encoding":{"x":{"field":"lane","type":"nominal","sort":["-","+"],"scale":{"paddingInner":0,"paddingOuter":0},"axis":{"orient":"top","domain":true,"domainWidth":1,"domainColor":"#111","ticks":false,"labels":false,"title":"R5.016","titlePadding":3,"titleFontSize":9.5}},"text":{"field":"lane"}}}
],"spacing":0,"bounds":"flush"},
{"width":98,"height":1,"data":{"values":[]},"mark":"point"},
{"vconcat":[
{"width":55,"height":263,"data":{"values":[]},"mark":"point","title":{"text":"G","anchor":"start","frame":"group","offset":0,"dx":-36,"dy":252,"baseline":"alphabetic","fontSize":17,"fontWeight":"bold"}},
{"width":55,"height":120,"view":{"stroke":"#111","strokeWidth":1.5,"fill":"#f7f7f7"},
"data":{"values":[
{"lane":"L","top":4.3,"bot":6.3,"i":0.7},{"lane":"L","top":13,"bot":15.5,"i":0.85},{"lane":"L","top":19.5,"bot":22,"i":0.85},{"lane":"L","top":32.5,"bot":37,"i":1},{"lane":"L","top":42.5,"bot":46,"i":1},{"lane":"L","top":46.5,"bot":50,"i":1},{"lane":"L","top":66,"bot":70.5,"i":1},{"lane":"L","top":84.5,"bot":87.5,"i":0.9},{"lane":"L","top":106,"bot":110,"i":1},
{"lane":"+","top":8.5,"bot":12,"i":1},{"lane":"+","top":12,"bot":16,"i":0.75},{"lane":"+","top":16,"bot":21,"i":0.45},{"lane":"+","top":21,"bot":45,"i":0.07},{"lane":"+","top":61,"bot":63,"i":0.15}
]},
"resolve":{"axis":{"y":"independent"}},
"layer":[
{"mark":{"type":"rect","color":"#141414","cornerRadius":1.2},
"encoding":{
"x":{"field":"lane","type":"nominal","scale":{"domain":["L","-","+"],"paddingInner":0.3,"paddingOuter":0.32},"axis":null},
"y":{"field":"top","type":"quantitative","scale":{"domain":[0,120],"reverse":true,"nice":false,"zero":false},"axis":{"orient":"left","values":[5,14,25,35,45,70,85,109],"labelExpr":"datum.value==5?'250':datum.value==14?'180':datum.value==25?'130':datum.value==35?'95':datum.value==45?'72':datum.value==70?'55':datum.value==85?'43':'34'","labelOverlap":false,"domain":false,"tickSize":4,"tickWidth":1,"offset":1.5,"labelPadding":1.5,"labelFontSize":8,"title":"kDa","titleAngle":0,"titleAlign":"right","titleBaseline":"alphabetic","titleX":-2,"titleY":-5,"titleFontSize":9}},
"y2":{"field":"bot"},
"opacity":{"field":"i","type":"quantitative","scale":{"domain":[0,1],"range":[0,1]},"legend":null}}},
{"mark":{"type":"point","opacity":0},
"encoding":{"y":{"field":"top","type":"quantitative","axis":{"orient":"right","values":[10],"labelExpr":"'◄ R5.002'","domain":false,"ticks":false,"tickSize":0,"labelPadding":5,"labelFontSize":7.5,"labelColor":"#111","title":null}}}}
]}
],"spacing":0,"bounds":"flush","resolve":{"scale":{"opacity":"independent"}}},
{"width":17,"height":1,"data":{"values":[]},"mark":"point"},
{"vconcat":[
{"width":32,"height":242,"data":{"values":[]},"mark":"point"},
{"width":32,"height":21,"data":{"values":[{"lane":"-"},{"lane":"+"}]},
"mark":{"type":"text","fontSize":10,"baseline":"middle","dy":-2,"color":"#111"},
"encoding":{"x":{"field":"lane","type":"nominal","sort":["-","+"],"scale":{"paddingInner":0,"paddingOuter":0},"axis":{"orient":"top","domain":true,"domainWidth":1,"domainColor":"#111","ticks":false,"labels":false,"title":"R5.002","titlePadding":3,"titleFontSize":9.5}},"text":{"field":"lane"}}}
],"spacing":0,"bounds":"flush"}
]
}
